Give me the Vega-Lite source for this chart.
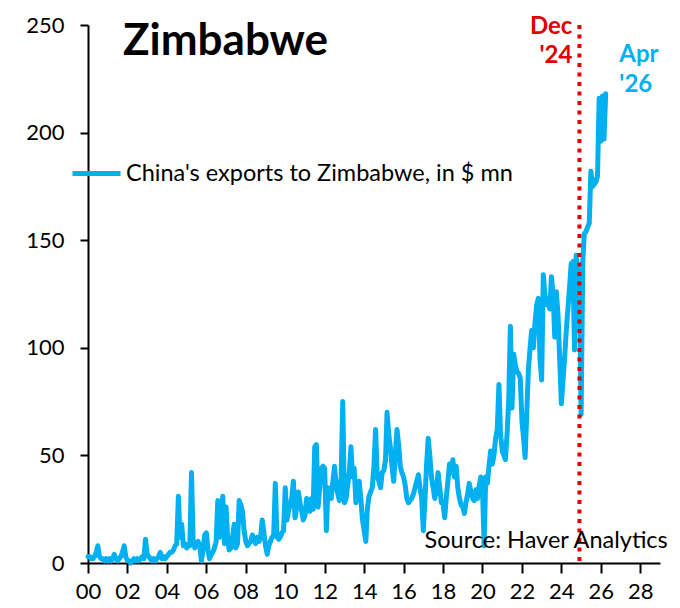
{
  "$schema": "https://vega.github.io/schema/vega-lite/v6.json",
  "description": "China's exports to Zimbabwe, monthly, in $ mn",
  "autosize": {"type": "none"},
  "width": 572,
  "height": 538,
  "padding": {"left": 88, "top": 25, "right": 20, "bottom": 45},
  "background": "white",
  "config": {
    "font": "Lato",
    "view": {"stroke": null},
    "legend": {
      "orient": "none",
      "legendX": -18,
      "legendY": 122,
      "symbolType": "stroke",
      "symbolSize": 2304,
      "symbolStrokeWidth": 5,
      "labelFontSize": 23.5,
      "labelColor": "black",
      "labelLimit": 0,
      "labelOffset": 3
    }
  },
  "datasets": {
    "exports": [
      {"d": "2000-01", "v": 3}, {"d": "2000-02", "v": 3}, {"d": "2000-03", "v": 2}, {"d": "2000-04", "v": 2}, {"d": "2000-05", "v": 3}, {"d": "2000-06", "v": 5}, {"d": "2000-07", "v": 8}, {"d": "2000-08", "v": 3}, {"d": "2000-09", "v": 2}, {"d": "2000-10", "v": 2}, {"d": "2000-11", "v": 1}, {"d": "2000-12", "v": 2},
      {"d": "2001-01", "v": 1}, {"d": "2001-02", "v": 2}, {"d": "2001-03", "v": 1}, {"d": "2001-04", "v": 2}, {"d": "2001-05", "v": 4}, {"d": "2001-06", "v": 2}, {"d": "2001-07", "v": 1}, {"d": "2001-08", "v": 2}, {"d": "2001-09", "v": 3}, {"d": "2001-10", "v": 5}, {"d": "2001-11", "v": 8}, {"d": "2001-12", "v": 3},
      {"d": "2002-01", "v": 1}, {"d": "2002-02", "v": 1}, {"d": "2002-03", "v": 0}, {"d": "2002-04", "v": 1}, {"d": "2002-05", "v": 2}, {"d": "2002-06", "v": 1}, {"d": "2002-07", "v": 2}, {"d": "2002-08", "v": 1}, {"d": "2002-09", "v": 2}, {"d": "2002-10", "v": 3}, {"d": "2002-11", "v": 2}, {"d": "2002-12", "v": 11},
      {"d": "2003-01", "v": 4}, {"d": "2003-02", "v": 3}, {"d": "2003-03", "v": 2}, {"d": "2003-04", "v": 1}, {"d": "2003-05", "v": 2}, {"d": "2003-06", "v": 1}, {"d": "2003-07", "v": 2}, {"d": "2003-08", "v": 3}, {"d": "2003-09", "v": 5}, {"d": "2003-10", "v": 2}, {"d": "2003-11", "v": 3}, {"d": "2003-12", "v": 2},
      {"d": "2004-01", "v": 3}, {"d": "2004-02", "v": 4}, {"d": "2004-03", "v": 5}, {"d": "2004-04", "v": 5}, {"d": "2004-05", "v": 6}, {"d": "2004-06", "v": 8}, {"d": "2004-07", "v": 9}, {"d": "2004-08", "v": 31}, {"d": "2004-09", "v": 12}, {"d": "2004-10", "v": 18}, {"d": "2004-11", "v": 8}, {"d": "2004-12", "v": 9},
      {"d": "2005-01", "v": 7}, {"d": "2005-02", "v": 8}, {"d": "2005-03", "v": 8}, {"d": "2005-04", "v": 42}, {"d": "2005-05", "v": 10}, {"d": "2005-06", "v": 7}, {"d": "2005-07", "v": 9}, {"d": "2005-08", "v": 10}, {"d": "2005-09", "v": 8}, {"d": "2005-10", "v": 1}, {"d": "2005-11", "v": 6}, {"d": "2005-12", "v": 13},
      {"d": "2006-01", "v": 14}, {"d": "2006-02", "v": 6}, {"d": "2006-03", "v": 2}, {"d": "2006-04", "v": 4}, {"d": "2006-05", "v": 5}, {"d": "2006-06", "v": 7}, {"d": "2006-07", "v": 10}, {"d": "2006-08", "v": 29}, {"d": "2006-09", "v": 12}, {"d": "2006-10", "v": 20}, {"d": "2006-11", "v": 31}, {"d": "2006-12", "v": 9},
      {"d": "2007-01", "v": 26}, {"d": "2007-02", "v": 10}, {"d": "2007-03", "v": 6}, {"d": "2007-04", "v": 7}, {"d": "2007-05", "v": 12}, {"d": "2007-06", "v": 18}, {"d": "2007-07", "v": 7}, {"d": "2007-08", "v": 9}, {"d": "2007-09", "v": 29}, {"d": "2007-10", "v": 27}, {"d": "2007-11", "v": 24}, {"d": "2007-12", "v": 15},
      {"d": "2008-01", "v": 10}, {"d": "2008-02", "v": 8}, {"d": "2008-03", "v": 9}, {"d": "2008-04", "v": 10}, {"d": "2008-05", "v": 13}, {"d": "2008-06", "v": 11}, {"d": "2008-07", "v": 9}, {"d": "2008-08", "v": 12}, {"d": "2008-09", "v": 10}, {"d": "2008-10", "v": 12}, {"d": "2008-11", "v": 20}, {"d": "2008-12", "v": 14},
      {"d": "2009-01", "v": 8}, {"d": "2009-02", "v": 4}, {"d": "2009-03", "v": 8}, {"d": "2009-04", "v": 10}, {"d": "2009-05", "v": 12}, {"d": "2009-06", "v": 13}, {"d": "2009-07", "v": 37}, {"d": "2009-08", "v": 12}, {"d": "2009-09", "v": 11}, {"d": "2009-10", "v": 12}, {"d": "2009-11", "v": 14}, {"d": "2009-12", "v": 15},
      {"d": "2010-01", "v": 35}, {"d": "2010-02", "v": 20}, {"d": "2010-03", "v": 24}, {"d": "2010-04", "v": 27}, {"d": "2010-05", "v": 30}, {"d": "2010-06", "v": 38}, {"d": "2010-07", "v": 21}, {"d": "2010-08", "v": 26}, {"d": "2010-09", "v": 33}, {"d": "2010-10", "v": 28}, {"d": "2010-11", "v": 24}, {"d": "2010-12", "v": 20},
      {"d": "2011-01", "v": 22}, {"d": "2011-02", "v": 30}, {"d": "2011-03", "v": 28}, {"d": "2011-04", "v": 24}, {"d": "2011-05", "v": 30}, {"d": "2011-06", "v": 25}, {"d": "2011-07", "v": 54}, {"d": "2011-08", "v": 55}, {"d": "2011-09", "v": 26}, {"d": "2011-10", "v": 35}, {"d": "2011-11", "v": 44}, {"d": "2011-12", "v": 45},
      {"d": "2012-01", "v": 44}, {"d": "2012-02", "v": 15}, {"d": "2012-03", "v": 35}, {"d": "2012-04", "v": 32}, {"d": "2012-05", "v": 30}, {"d": "2012-06", "v": 38}, {"d": "2012-07", "v": 45}, {"d": "2012-08", "v": 36}, {"d": "2012-09", "v": 32}, {"d": "2012-10", "v": 29}, {"d": "2012-11", "v": 40}, {"d": "2012-12", "v": 75},
      {"d": "2013-01", "v": 28}, {"d": "2013-02", "v": 30}, {"d": "2013-03", "v": 36}, {"d": "2013-04", "v": 42}, {"d": "2013-05", "v": 54}, {"d": "2013-06", "v": 40}, {"d": "2013-07", "v": 44}, {"d": "2013-08", "v": 28}, {"d": "2013-09", "v": 32}, {"d": "2013-10", "v": 38}, {"d": "2013-11", "v": 30}, {"d": "2013-12", "v": 20},
      {"d": "2014-01", "v": 15}, {"d": "2014-02", "v": 10}, {"d": "2014-03", "v": 25}, {"d": "2014-04", "v": 31}, {"d": "2014-05", "v": 33}, {"d": "2014-06", "v": 35}, {"d": "2014-07", "v": 45}, {"d": "2014-08", "v": 62}, {"d": "2014-09", "v": 40}, {"d": "2014-10", "v": 38}, {"d": "2014-11", "v": 35}, {"d": "2014-12", "v": 42},
      {"d": "2015-01", "v": 43}, {"d": "2015-02", "v": 48}, {"d": "2015-03", "v": 70}, {"d": "2015-04", "v": 60}, {"d": "2015-05", "v": 54}, {"d": "2015-06", "v": 45}, {"d": "2015-07", "v": 38}, {"d": "2015-08", "v": 50}, {"d": "2015-09", "v": 62}, {"d": "2015-10", "v": 55}, {"d": "2015-11", "v": 45}, {"d": "2015-12", "v": 42},
      {"d": "2016-01", "v": 40}, {"d": "2016-02", "v": 36}, {"d": "2016-03", "v": 30}, {"d": "2016-04", "v": 28}, {"d": "2016-05", "v": 29}, {"d": "2016-06", "v": 30}, {"d": "2016-07", "v": 32}, {"d": "2016-08", "v": 35}, {"d": "2016-09", "v": 38}, {"d": "2016-10", "v": 41}, {"d": "2016-11", "v": 35}, {"d": "2016-12", "v": 30},
      {"d": "2017-01", "v": 15}, {"d": "2017-02", "v": 30}, {"d": "2017-03", "v": 45}, {"d": "2017-04", "v": 58}, {"d": "2017-05", "v": 50}, {"d": "2017-06", "v": 40}, {"d": "2017-07", "v": 35}, {"d": "2017-08", "v": 30}, {"d": "2017-09", "v": 34}, {"d": "2017-10", "v": 42}, {"d": "2017-11", "v": 35}, {"d": "2017-12", "v": 28},
      {"d": "2018-01", "v": 28}, {"d": "2018-02", "v": 21}, {"d": "2018-03", "v": 30}, {"d": "2018-04", "v": 38}, {"d": "2018-05", "v": 46}, {"d": "2018-06", "v": 42}, {"d": "2018-07", "v": 48}, {"d": "2018-08", "v": 40}, {"d": "2018-09", "v": 45}, {"d": "2018-10", "v": 35}, {"d": "2018-11", "v": 30}, {"d": "2018-12", "v": 27},
      {"d": "2019-01", "v": 26}, {"d": "2019-02", "v": 23}, {"d": "2019-03", "v": 28}, {"d": "2019-04", "v": 32}, {"d": "2019-05", "v": 37}, {"d": "2019-06", "v": 33}, {"d": "2019-07", "v": 30}, {"d": "2019-08", "v": 29}, {"d": "2019-09", "v": 34}, {"d": "2019-10", "v": 30}, {"d": "2019-11", "v": 36}, {"d": "2019-12", "v": 40},
      {"d": "2020-01", "v": 35}, {"d": "2020-02", "v": 8}, {"d": "2020-03", "v": 40}, {"d": "2020-04", "v": 37}, {"d": "2020-05", "v": 45}, {"d": "2020-06", "v": 52}, {"d": "2020-07", "v": 46}, {"d": "2020-08", "v": 50}, {"d": "2020-09", "v": 58}, {"d": "2020-10", "v": 62}, {"d": "2020-11", "v": 83}, {"d": "2020-12", "v": 60},
      {"d": "2021-01", "v": 52}, {"d": "2021-02", "v": 50}, {"d": "2021-03", "v": 48}, {"d": "2021-04", "v": 60}, {"d": "2021-05", "v": 75}, {"d": "2021-06", "v": 110}, {"d": "2021-07", "v": 72}, {"d": "2021-08", "v": 97}, {"d": "2021-09", "v": 92}, {"d": "2021-10", "v": 89}, {"d": "2021-11", "v": 88}, {"d": "2021-12", "v": 86},
      {"d": "2022-01", "v": 66}, {"d": "2022-02", "v": 58}, {"d": "2022-03", "v": 49}, {"d": "2022-04", "v": 70}, {"d": "2022-05", "v": 90}, {"d": "2022-06", "v": 100}, {"d": "2022-07", "v": 108}, {"d": "2022-08", "v": 100}, {"d": "2022-09", "v": 112}, {"d": "2022-10", "v": 120}, {"d": "2022-11", "v": 123}, {"d": "2022-12", "v": 95},
      {"d": "2023-01", "v": 85}, {"d": "2023-02", "v": 134}, {"d": "2023-03", "v": 125}, {"d": "2023-04", "v": 120}, {"d": "2023-05", "v": 122}, {"d": "2023-06", "v": 118}, {"d": "2023-07", "v": 133}, {"d": "2023-08", "v": 125}, {"d": "2023-09", "v": 105}, {"d": "2023-10", "v": 126}, {"d": "2023-11", "v": 115}, {"d": "2023-12", "v": 95},
      {"d": "2024-01", "v": 74}, {"d": "2024-02", "v": 85}, {"d": "2024-03", "v": 95}, {"d": "2024-04", "v": 108}, {"d": "2024-05", "v": 118}, {"d": "2024-06", "v": 128}, {"d": "2024-07", "v": 139}, {"d": "2024-08", "v": 140}, {"d": "2024-09", "v": 99}, {"d": "2024-10", "v": 143}, {"d": "2024-11", "v": 136}, {"d": "2024-12", "v": 134},
      {"d": "2025-01", "v": 69}, {"d": "2025-02", "v": 140}, {"d": "2025-03", "v": 153}, {"d": "2025-04", "v": 154}, {"d": "2025-05", "v": 156}, {"d": "2025-06", "v": 158}, {"d": "2025-07", "v": 182}, {"d": "2025-08", "v": 175}, {"d": "2025-09", "v": 176}, {"d": "2025-10", "v": 177}, {"d": "2025-11", "v": 180}, {"d": "2025-12", "v": 216},
      {"d": "2026-01", "v": 196}, {"d": "2026-02", "v": 217}, {"d": "2026-03", "v": 197}, {"d": "2026-04", "v": 218}
    ]
  },
  "layer": [
    {
      "data": {"name": "exports"},
      "mark": {"type": "line", "strokeWidth": 5, "strokeJoin": "round", "strokeCap": "round"},
      "encoding": {
        "x": {
          "field": "d",
          "type": "temporal",
          "scale": {
            "type": "utc",
            "domain": [
              {"year": 2000, "month": 1, "date": 1, "utc": true},
              {"year": 2029, "month": 1, "date": 1, "utc": true}
            ]
          },
          "axis": {
            "title": null,
            "format": "%y",
            "values": [
              {"year": 2000, "utc": true}, {"year": 2002, "utc": true}, {"year": 2004, "utc": true},
              {"year": 2006, "utc": true}, {"year": 2008, "utc": true}, {"year": 2010, "utc": true},
              {"year": 2012, "utc": true}, {"year": 2014, "utc": true}, {"year": 2016, "utc": true},
              {"year": 2018, "utc": true}, {"year": 2020, "utc": true}, {"year": 2022, "utc": true},
              {"year": 2024, "utc": true}, {"year": 2026, "utc": true}, {"year": 2028, "utc": true}
            ],
            "grid": false,
            "domainColor": "black",
            "domainWidth": 2,
            "tickColor": "black",
            "tickWidth": 2,
            "tickSize": 10,
            "labelFontSize": 22,
            "labelColor": "black",
            "labelPadding": 8,
            "labelFlush": false,
            "labelOverlap": false
          }
        },
        "y": {
          "field": "v",
          "type": "quantitative",
          "scale": {"domain": [0, 250], "nice": false},
          "axis": {
            "title": null,
            "values": [0, 50, 100, 150, 200, 250],
            "grid": false,
            "domainColor": "black",
            "domainWidth": 2,
            "tickColor": "black",
            "tickWidth": 2,
            "tickSize": 8,
            "labelFontSize": 22,
            "labelColor": "black",
            "labelPadding": 16,
            "labelFlush": false
          }
        },
        "color": {
          "datum": "China's exports to Zimbabwe, in $ mn",
          "type": "nominal",
          "scale": {"range": ["#00B0F0"]},
          "legend": {"title": null}
        }
      }
    },
    {
      "data": {"values": [{"d": "2024-12"}]},
      "mark": {"type": "rule", "color": "#E00000", "strokeWidth": 4, "strokeDash": [4, 5.5]},
      "encoding": {
        "x": {"field": "d", "type": "temporal"}
      }
    },
    {
      "data": {"values": [{"d": "2001-10-10", "v": 236, "label": "Zimbabwe"}]},
      "mark": {"type": "text", "align": "left", "baseline": "alphabetic", "fontSize": 44, "fontWeight": "bold", "color": "black"},
      "encoding": {
        "x": {"field": "d", "type": "temporal"},
        "y": {"field": "v", "type": "quantitative"},
        "text": {"field": "label"}
      }
    },
    {
      "data": {"values": [{"d": "2024-12", "v": 246, "label": "Dec"}, {"d": "2024-12", "v": 232.5, "label": "'24"}]},
      "mark": {"type": "text", "align": "right", "baseline": "alphabetic", "dx": -7, "fontSize": 24, "fontWeight": "bold", "color": "#E00000"},
      "encoding": {
        "x": {"field": "d", "type": "temporal"},
        "y": {"field": "v", "type": "quantitative"},
        "text": {"field": "label"}
      }
    },
    {
      "data": {"values": [{"d": "2026-12-10", "v": 233, "label": "Apr"}, {"d": "2026-12-10", "v": 219, "label": "'26"}]},
      "mark": {"type": "text", "align": "left", "baseline": "alphabetic", "fontSize": 24, "fontWeight": "bold", "color": "#00B0F0"},
      "encoding": {
        "x": {"field": "d", "type": "temporal"},
        "y": {"field": "v", "type": "quantitative"},
        "text": {"field": "label"}
      }
    },
    {
      "data": {"values": [{"d": "2029-05-25", "v": 6.8, "label": "Source: Haver Analytics"}]},
      "mark": {"type": "text", "align": "right", "baseline": "alphabetic", "fontSize": 23.5, "color": "black"},
      "encoding": {
        "x": {"field": "d", "type": "temporal"},
        "y": {"field": "v", "type": "quantitative"},
        "text": {"field": "label"}
      }
    }
  ]
}
